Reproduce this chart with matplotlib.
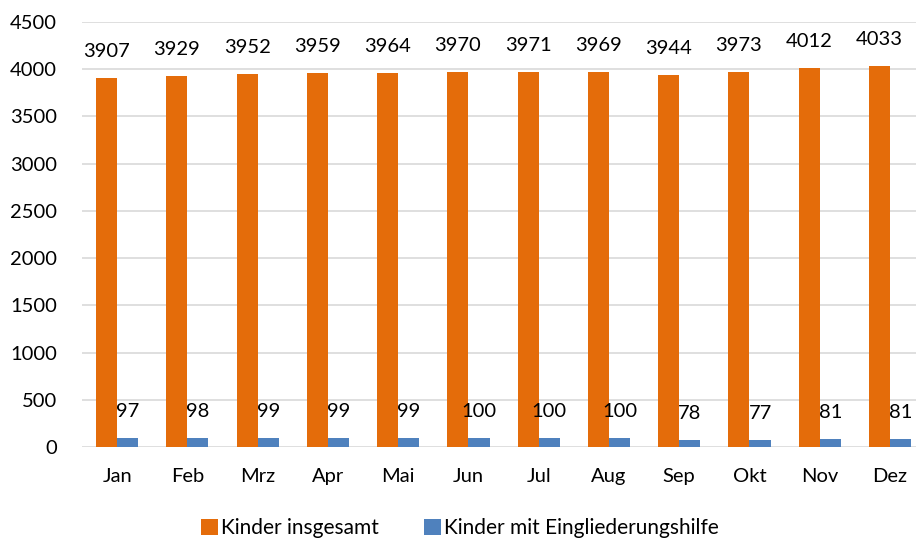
import numpy as np
import matplotlib
matplotlib.use('Agg')
import matplotlib.pyplot as plt

plt.rcParams['font.family'] = ['Lato', 'DejaVu Sans']

# Data
months = ['Jan', 'Feb', 'Mrz', 'Apr', 'Mai', 'Jun', 'Jul', 'Aug', 'Sep', 'Okt', 'Nov', 'Dez']
kinder_gesamt = [3907, 3929, 3952, 3959, 3964, 3970, 3971, 3969, 3944, 3973, 4012, 4033]
kinder_eingl = [97, 98, 99, 99, 99, 100, 100, 100, 78, 77, 81, 81]

orange = '#E46C0A'
blue = '#4F81BD'
fs = 14.5

fig = plt.figure(figsize=(9.16, 5.42), dpi=100)
ax = fig.add_axes([82 / 916, 95 / 542, 834 / 916, 425 / 542])

x = np.arange(len(months))
w = 0.3
b1 = ax.bar(x - w / 2, kinder_gesamt, w, color=orange, label='Kinder insgesamt', zorder=3)
b2 = ax.bar(x + w / 2, kinder_eingl, w, color=blue, label='Kinder mit Eingliederungshilfe', zorder=3)

# Data labels
for bars in (b1, b2):
    for rect in bars:
        h = rect.get_height()
        ax.annotate(f'{h:d}', (rect.get_x() + rect.get_width() / 2, h),
                    xytext=(0, 19), textcoords='offset points',
                    ha='center', va='center', fontsize=fs, color='#000000')

ax.set_ylim(0, 4500)
ax.set_yticks(range(0, 4501, 500))
ax.set_xlim(-0.5, 11.37)
ax.set_xticks(x)
ax.set_xticklabels(months)

ax.grid(axis='y', color='#d9d9d9', linewidth=1.2, zorder=0)
ax.set_axisbelow(True)
for s in ax.spines.values():
    s.set_visible(False)
ax.tick_params(axis='both', length=0, labelsize=fs, colors='#000000')
ax.tick_params(axis='y', pad=18)
ax.tick_params(axis='x', pad=15)

ax.legend(loc='center', bbox_to_anchor=(460 / 916, 14 / 542), bbox_transform=fig.transFigure,
          ncol=2, frameon=False, fontsize=15, handlelength=0.8, handleheight=0.8,
          handletextpad=0.15, columnspacing=2.2)

fig.savefig('out.png', dpi=100)
